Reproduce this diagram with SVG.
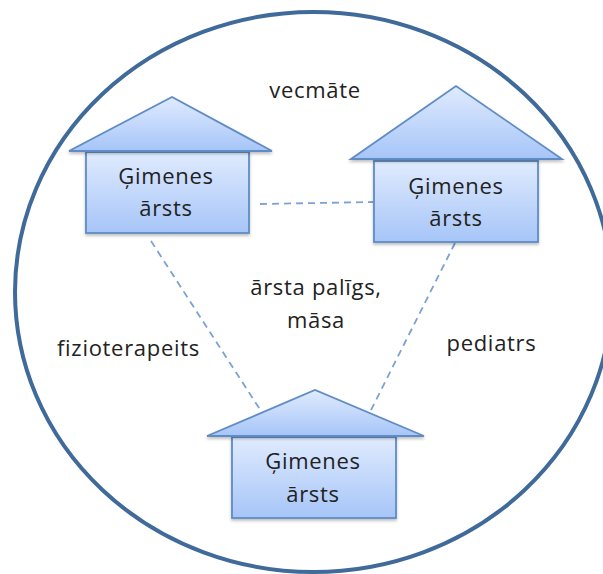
<svg xmlns="http://www.w3.org/2000/svg" width="603" height="574" viewBox="0 0 603 574">
<style>
.h{fill:url(#g);stroke:#5f8cc4;stroke-width:1.8;stroke-linejoin:miter;filter:url(#s)}
.c{stroke:#7aa2d2;stroke-width:1.8;stroke-dasharray:7 5;fill:none}
text{font-family:"Open Sans","Noto Sans",sans-serif;font-size:22px;letter-spacing:0.7px;fill:#222;text-anchor:middle}
</style>
<defs>
<linearGradient id="g" x1="0" y1="0" x2="0" y2="1"><stop offset="0" stop-color="#e0ebfe"/><stop offset="1" stop-color="#a6c5f8"/></linearGradient>
<filter id="s" x="-10%" y="-10%" width="120%" height="125%"><feDropShadow dx="0" dy="2" stdDeviation="1.8" flood-color="#000" flood-opacity="0.25"/></filter>
</defs>
<rect width="603" height="574" fill="#fff"/>
<ellipse id="boundary" cx="313.5" cy="292" rx="298.5" ry="280" fill="none" stroke="#3f6a99" stroke-width="4"/>
<g id="connectors">
<line class="c" x1="260" y1="204" x2="373" y2="202"/>
<line class="c" x1="151" y1="241" x2="261" y2="411"/>
<line class="c" x1="455" y1="243" x2="370" y2="412"/>
</g>
<g id="house1">
<rect class="h" x="86" y="152" width="163" height="81"/>
<polygon class="h" points="69,151 172,97 272,151"/>
<text x="166" y="184">Ģimenes</text><text x="166" y="216">ārsts</text>
</g>
<g id="house2">
<rect class="h" x="374" y="161" width="164" height="81"/>
<polygon class="h" points="351,159 456,86 562,159"/>
<text x="456" y="194">Ģimenes</text><text x="456" y="226">ārsts</text>
</g>
<g id="house3">
<rect class="h" x="232" y="437" width="164" height="81"/>
<polygon class="h" points="207,436 315,390 424,436"/>
<text x="313" y="469">Ģimenes</text><text x="313" y="502">ārsts</text>
</g>
<g id="labels">
<text x="315" y="98">vecmāte</text>
<text x="316" y="295">ārsta palīgs,</text>
<text x="316" y="328">māsa</text>
<text x="128.5" y="355.5">fizioterapeits</text>
<text x="491.5" y="351">pediatrs</text>
</g>
</svg>
